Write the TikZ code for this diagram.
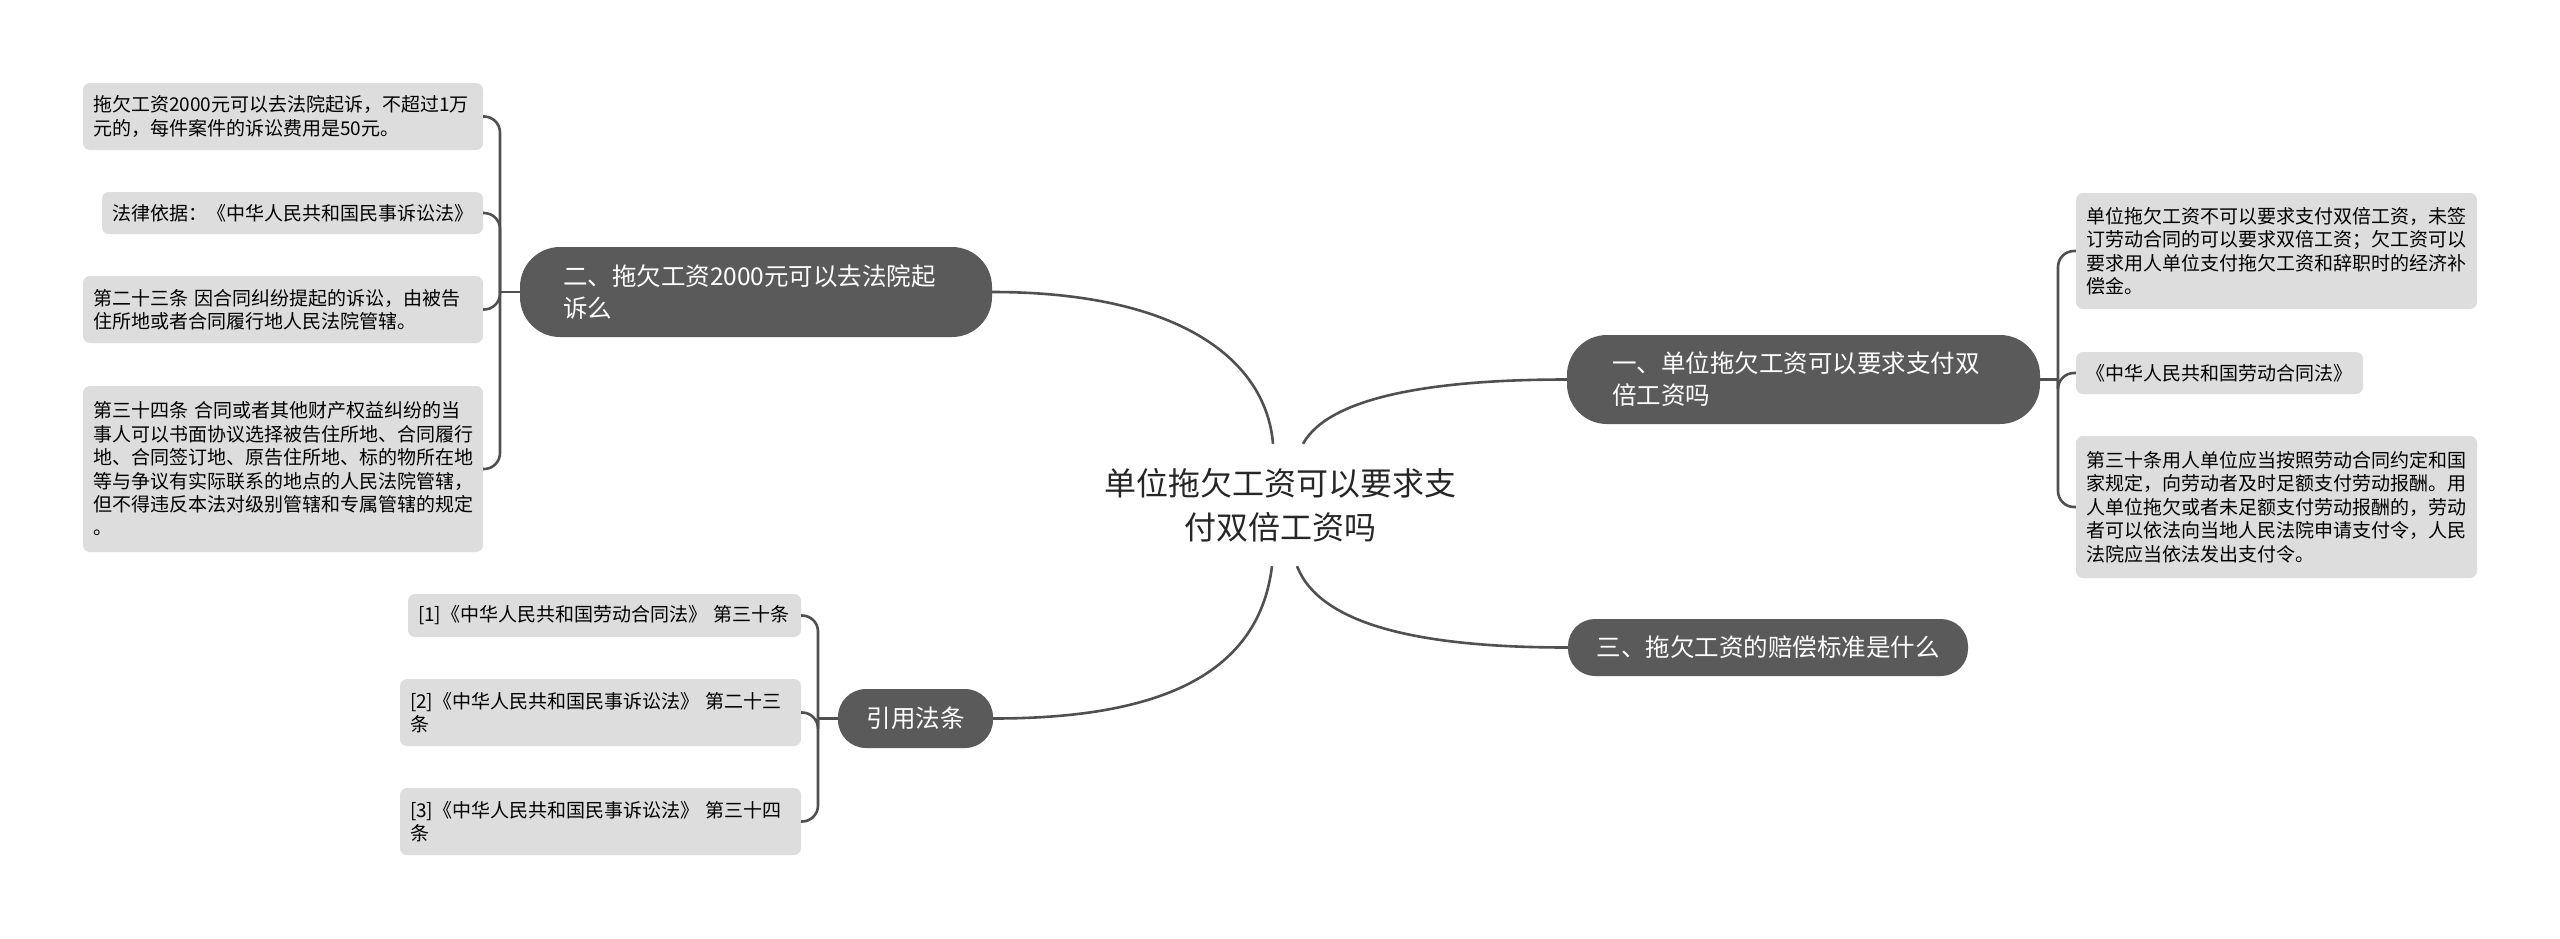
\documentclass[tikz,border=0pt]{standalone}
\usepackage{fontspec}
\setmainfont{Noto Sans CJK SC}
\definecolor{leafc}{HTML}{DDDDDD}
\definecolor{branchc}{HTML}{5A5A5A}
\definecolor{linec}{HTML}{505050}
\tikzset{
  leaf/.style={fill=leafc, rounded corners=7pt, inner xsep=10pt, inner ysep=0pt, align=left, text=black,
    font=\fontsize{19pt}{23.4pt}\selectfont},
  branch/.style={fill=branchc, text=white, inner ysep=0pt,
    font=\fontsize{24.5pt}{32pt}\selectfont},
  conn/.style={draw=linec, line width=2.6pt},
  spine/.style={draw=linec, line width=2.6pt, rounded corners=16pt}
}
\begin{document}
\begin{tikzpicture}[x=1pt,y=-1pt]
\useasboundingbox[fill=white] (0,0) rectangle (2560,938);

% center
\node[align=center, minimum height=122pt, inner sep=0pt, font=\fontsize{32pt}{44pt}\selectfont, text=black!85] (ctr) at (1280,505) {单位拖欠工资可以要求支\\付双倍工资吗};

% branches
\node[branch, rounded corners=40pt, minimum width=472pt, minimum height=90pt, inner xsep=43pt, text width=386pt, align=left] (b2) at (756,292) {二、拖欠工资2000元可以去法院起\\诉么};
\node[branch, rounded corners=40pt, minimum width=473pt, minimum height=89pt, inner xsep=45pt, text width=383pt, align=left] (b1) at (1803.5,379.5) {一、单位拖欠工资可以要求支付双\\倍工资吗};
\node[branch, rounded corners=27pt, minimum width=400pt, minimum height=57pt, align=center] (b3) at (1768,647.5) {三、拖欠工资的赔偿标准是什么};
\node[branch, rounded corners=28pt, minimum width=155pt, minimum height=59pt, align=center] (bc) at (915.5,718.5) {引用法条};

% left leaves
\node[leaf, text width=380pt, minimum height=67pt] (l1) at (283,116.5) {拖欠工资2000元可以去法院起诉，不超过1万\\元的，每件案件的诉讼费用是50元。};
\node[leaf, text width=361pt, minimum height=42pt] (l2) at (292.5,213) {法律依据：《中华人民共和国民事诉讼法》};
\node[leaf, text width=380pt, minimum height=67pt] (l3) at (283,309.5) {第二十三条 因合同纠纷提起的诉讼，由被告\\住所地或者合同履行地人民法院管辖。};
\node[leaf, text width=380pt, minimum height=166pt] (l4) at (283,469) {第三十四条 合同或者其他财产权益纠纷的当\\事人可以书面协议选择被告住所地、合同履行\\地、合同签订地、原告住所地、标的物所在地\\等与争议有实际联系的地点的人民法院管辖，\\但不得违反本法对级别管辖和专属管辖的规定\\。};

% right leaves
\node[leaf, text width=381pt, minimum height=116pt] (r1) at (2276.5,251) {单位拖欠工资不可以要求支付双倍工资，未签\\订劳动合同的可以要求双倍工资；欠工资可以\\要求用人单位支付拖欠工资和辞职时的经济补\\偿金。};
\node[leaf, text width=267pt, minimum height=42pt] (r2) at (2219.5,373) {《中华人民共和国劳动合同法》};
\node[leaf, text width=381pt, minimum height=142pt] (r3) at (2276.5,507) {第三十条用人单位应当按照劳动合同约定和国\\家规定，向劳动者及时足额支付劳动报酬。用\\人单位拖欠或者未足额支付劳动报酬的，劳动\\者可以依法向当地人民法院申请支付令，人民\\法院应当依法发出支付令。};

% citation leaves
\node[leaf, text width=373pt, minimum height=43pt] (c1) at (604.5,615.5) {[1]《中华人民共和国劳动合同法》 第三十条};
\node[leaf, text width=381pt, minimum height=67pt] (c2) at (600.5,712.5) {[2]《中华人民共和国民事诉讼法》 第二十三\\条};
\node[leaf, text width=381pt, minimum height=67pt] (c3) at (600.5,821.5) {[3]《中华人民共和国民事诉讼法》 第三十四\\条};

% junctions
\coordinate (j2) at (500,292);
\coordinate (j1) at (2058,379.5);
\coordinate (jc) at (818,718.5);

% center connectors
\draw[conn] ([xshift=-7pt]ctr.north) .. controls (1266,360) and (1180,292) .. (b2.east);
\draw[conn] ([xshift=23pt]ctr.north) .. controls (1330,395) and (1440,379.5) .. (b1.west);
\draw[conn] ([xshift=17pt]ctr.south) .. controls (1320,625) and (1420,647.5) .. (b3.west);
\draw[conn] ([xshift=-8pt]ctr.south) .. controls (1258,680) and (1150,718.5) .. (bc.east);

% branch 二
\draw[conn] (b2.west) -- (j2);
\draw[spine] (j2) |- (l1.east);
\draw[spine] (j2) |- (l2.east);
\draw[spine] (j2) |- (l3.east);
\draw[spine] (j2) |- (l4.east);

% branch 一
\draw[conn] (b1.east) -- (j1);
\draw[spine] (j1) |- (r1.west);
\draw[spine] (j1) |- (r2.west);
\draw[spine] (j1) |- (r3.west);

% citations
\draw[conn] (bc.west) -- (jc);
\draw[spine] (jc) |- (c1.east);
\draw[spine] (jc) |- (c2.east);
\draw[spine] (jc) |- (c3.east);
\end{tikzpicture}
\end{document}
